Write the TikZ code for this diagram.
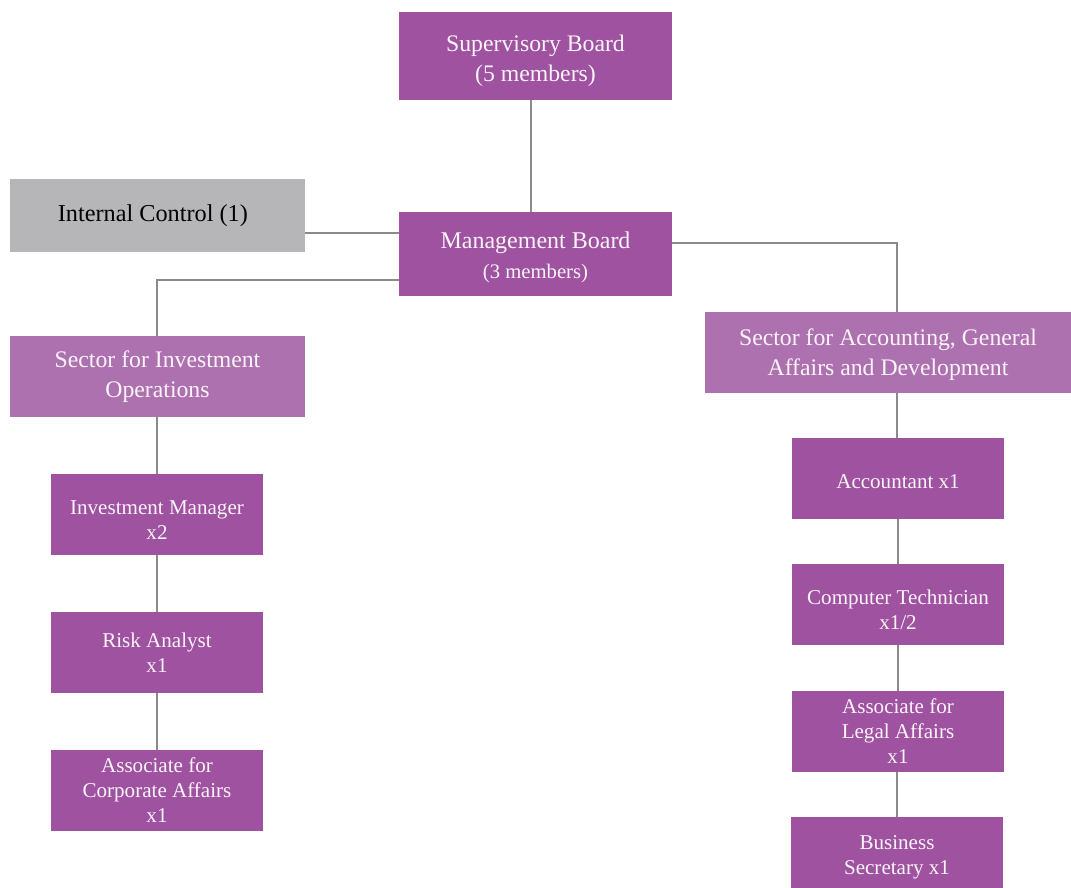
\documentclass[tikz,border=0pt]{standalone}
\usepackage{fontspec}
\setmainfont{Liberation Serif}
\definecolor{boxpurple}{HTML}{9F52A0}
\definecolor{sectpurple}{HTML}{AE71AF}
\definecolor{boxgray}{HTML}{B6B6B8}
\definecolor{linegray}{HTML}{8A8A8A}
\definecolor{boxtext}{HTML}{FAF4FA}
\newcommand\myTopStrut[1]{\rule{0pt}{#1}}
\tikzset{
  box/.style={rectangle, fill=boxpurple, text=boxtext, align=center, inner sep=0pt},
  bigbox/.style={box, font=\fontsize{17.8}{22.5}\selectfont},
  smallbox/.style={box, font=\fontsize{15.8}{18.75}\selectfont, minimum width=159pt, minimum height=60.75pt},
  sectbox/.style={bigbox, fill=sectpurple, minimum height=60.75pt},
  conn/.style={draw=linegray, line width=1.1pt},
}
\begin{document}
\begin{tikzpicture}[x=0.75pt, y=-0.75pt]
\useasboundingbox (0,0) rectangle (1071,888);
\node[bigbox, minimum width=204.75pt, minimum height=66pt] (sup) at (535.5,56) {\myTopStrut{19pt}Supervisory Board\\(5 members)};
\node[box, minimum width=204.75pt, minimum height=63pt] (mgmt) at (535.5,254) {{\fontsize{18}{22.5}\selectfont \myTopStrut{17.5pt}Management Board}\\[6.5pt]{\fontsize{15.5}{18}\selectfont (3 members)}};
\node[bigbox, font=\fontsize{18.2}{22.5}\selectfont, fill=boxgray, text=black, minimum width=221.25pt, minimum height=54.75pt] (ic) at (157.5,215.5) {Internal Control (1)\hspace*{7pt}};
\node[sectbox, minimum width=221.25pt] (sio) at (157.5,376.5) {Sector for Investment\\Operations};
\node[sectbox, minimum width=274.5pt] (sag) at (888,352.5) {\myTopStrut{15.2pt}Sector for Accounting, General\\Affairs and Development};
\node[smallbox] (im) at (157,514.5) {\myTopStrut{18pt}Investment Manager\\x2};
\node[smallbox] (ra) at (157,652.5) {Risk Analyst\\x1};
\node[smallbox] (aca) at (157,790.5) {Associate for\\Corporate Affairs\\x1};
\node[smallbox] (acc) at (898,478.5) {\myTopStrut{14.5pt}Accountant x1};
\node[smallbox] (ct) at (898,604.5) {\myTopStrut{18.2pt}Computer Technician\\x1/2};
\node[smallbox] (ala) at (898,731.5) {Associate for\\Legal Affairs\\x1};
\node[smallbox] (bs) at (897,857.5) {Business\\Secretary x1};
% connectors
\coordinate (supout) at (531,100);
\coordinate (mgmtin) at (531,212);
\coordinate (mgmtic) at (399,233);
\coordinate (mgmtleft) at (399,280);
\coordinate (mgmtright) at (672,243);
\coordinate (sioin) at (157,336);
\coordinate (sagin) at (897,312);
\coordinate (sagout) at (897,393);
\draw[conn] (supout) -- (mgmtin);
\draw[conn] (ic.east |- mgmtic) -- (mgmtic);
\draw[conn] (mgmtleft) -| (sioin);
\draw[conn] (mgmtright) -| (sagin);
\draw[conn] (sio.south -| im.north) -- (im.north);
\draw[conn] (im) -- (ra);
\draw[conn] (ra) -- (aca);
\draw[conn] (sagout) -- (sagout |- acc.north);
\draw[conn] (acc) -- (ct);
\draw[conn] (ct) -- (ala);
\draw[conn] (ala.south -| sagout) -- (bs.north -| sagout);
\end{tikzpicture}
\end{document}
